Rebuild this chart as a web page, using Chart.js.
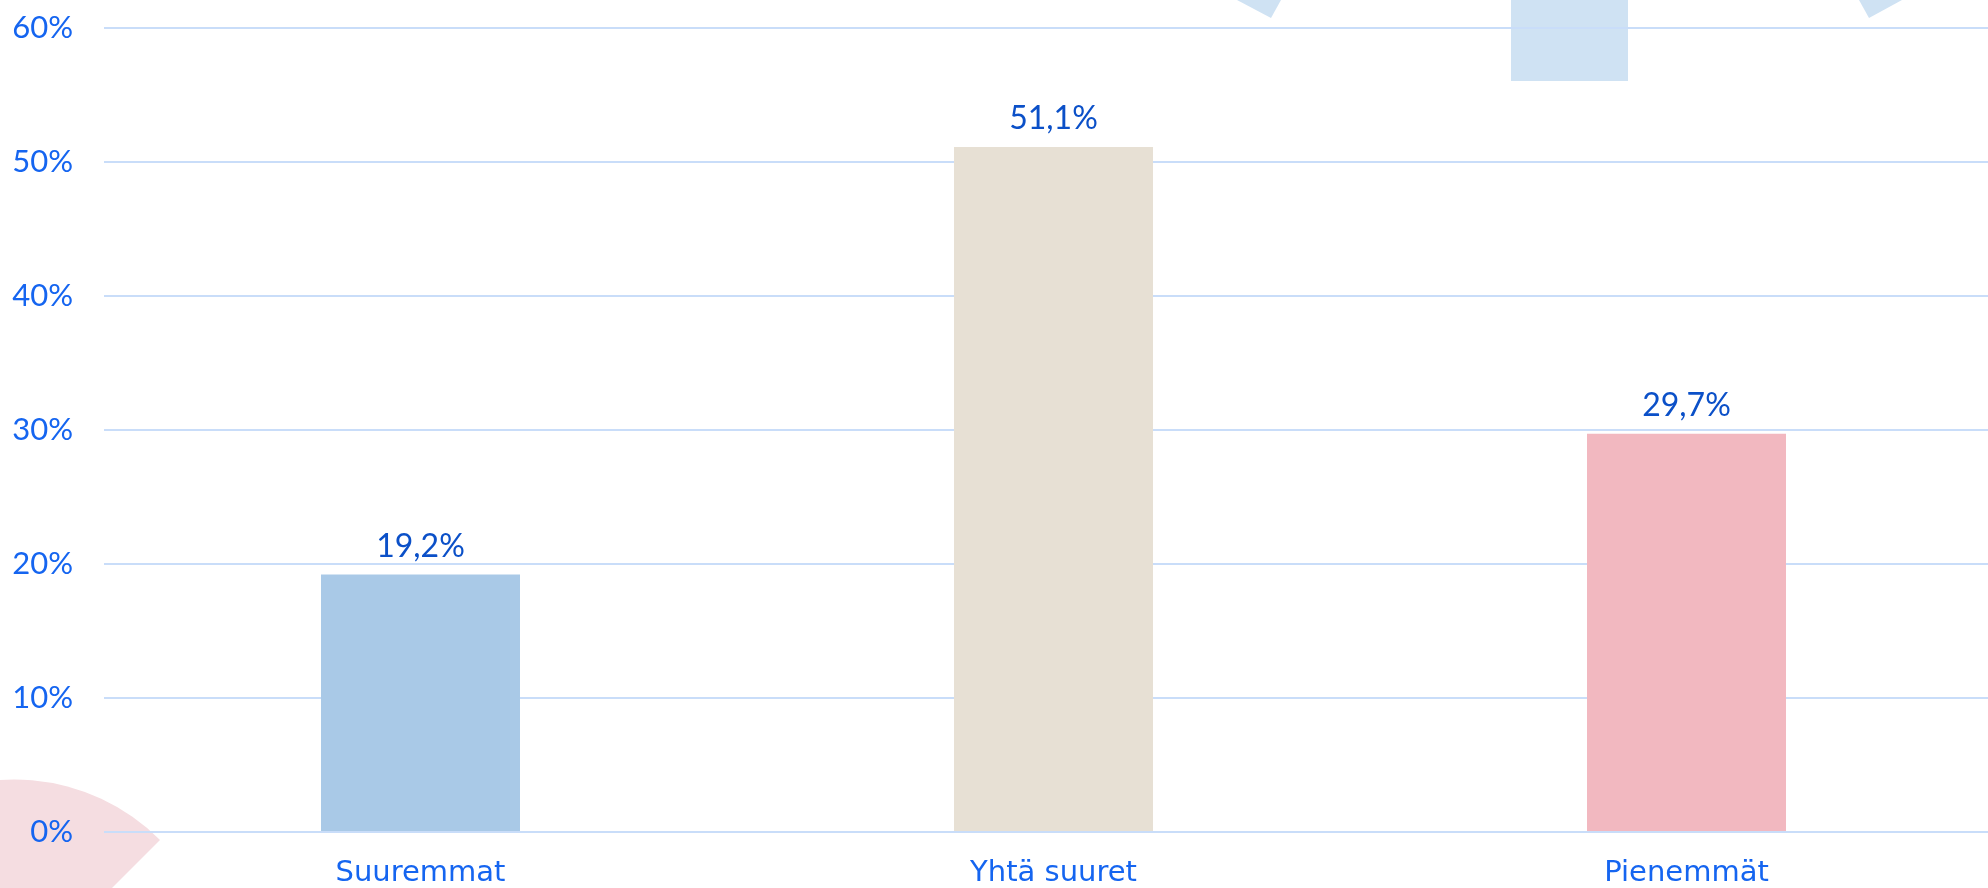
<!DOCTYPE html>
<html>
<head>
<meta charset="utf-8">
<script src="https://cdn.jsdelivr.net/npm/chart.js@4/dist/chart.umd.min.js"></script>
<style>
  html, body { margin: 0; padding: 0; background: #ffffff; overflow: hidden; width: 1988px; height: 888px; }
  #wrap { position: absolute; left: 0; top: -22px; width: 2003px; height: 942px; }
</style>
</head>
<body>
<div id="wrap"><canvas id="c"></canvas></div>
<script>
const categories = ['Suuremmat', 'Yhtä suuret', 'Pienemmät'];
const values = [19.2, 51.1, 29.7];
const barColors = ['#a9c9e7', '#e7e0d4', '#f2b8c0'];
const yTicks = [0, 10, 20, 30, 40, 50, 60];

const numFont = 'Lato, "Open Sans", sans-serif';
const catFont = '"DejaVu Sans", sans-serif';
const OFFSET = 22; // canvas is shifted up by this amount

const decorations = {
  id: 'decorations',
  beforeDraw(chart) {
    const ctx = chart.ctx;
    ctx.save();
    ctx.translate(0, OFFSET);
    ctx.fillStyle = '#cfe2f3';
    ctx.beginPath();
    ctx.moveTo(1237, -30); ctx.lineTo(1281, -30); ctx.lineTo(1281, 0); ctx.lineTo(1271, 18); ctx.lineTo(1237, 0); ctx.closePath();
    ctx.fill();
    ctx.beginPath();
    ctx.moveTo(1859, -30); ctx.lineTo(1902, -30); ctx.lineTo(1902, 0); ctx.lineTo(1869, 18); ctx.lineTo(1859, 0); ctx.closePath();
    ctx.fill();
    ctx.fillRect(1511, -30, 117, 111);
    ctx.fillStyle = '#f5dde1';
    ctx.beginPath();
    ctx.moveTo(14, 986);
    ctx.arc(14, 986, 206.5, -125 * Math.PI / 180, -45 * Math.PI / 180);
    ctx.closePath();
    ctx.fill();
    ctx.restore();
  }
};

const valueLabels = {
  id: 'valueLabels',
  afterDatasetsDraw(chart) {
    const ctx = chart.ctx;
    const meta = chart.getDatasetMeta(0);
    ctx.save();
    ctx.font = '32px ' + numFont;
    ctx.fillStyle = '#0b50c8';
    ctx.textAlign = 'center';
    ctx.textBaseline = 'alphabetic';
    meta.data.forEach((bar, i) => {
      const txt = values[i].toFixed(1).replace('.', ',') + '%';
      ctx.fillText(txt, bar.x, bar.y - 18);
    });
    ctx.restore();
  }
};

new Chart(document.getElementById('c'), {
  type: 'bar',
  data: {
    labels: categories,
    datasets: [{
      data: values,
      backgroundColor: barColors,
      borderWidth: 0,
      categoryPercentage: 1,
      barPercentage: 0.3144
    }]
  },
  options: {
    responsive: true,
    maintainAspectRatio: false,
    animation: false,
    layout: { padding: { top: 4, right: 0, bottom: 0, left: 0 } },
    plugins: { legend: { display: false }, tooltip: { enabled: false } },
    scales: {
      x: {
        grid: { display: false },
        border: { display: false },
        ticks: {
          color: '#1565f0',
          font: { family: catFont, size: 29 },
          padding: 16,
          maxRotation: 0
        },
        afterFit(scale) { scale.height = 88; }
      },
      y: {
        min: 0,
        max: 60,
        afterBuildTicks(scale) { scale.ticks = yTicks.map(v => ({ value: v })); },
        grid: { color: '#c9ddf9', lineWidth: 2, drawTicks: false },
        border: { display: false },
        ticks: {
          color: '#1565f0',
          font: { family: numFont, size: 31 },
          padding: 31,
          callback: v => v + '%'
        },
        afterFit(scale) { scale.width = 104; }
      }
    }
  },
  plugins: [decorations, valueLabels]
});
</script>
</body>
</html>
